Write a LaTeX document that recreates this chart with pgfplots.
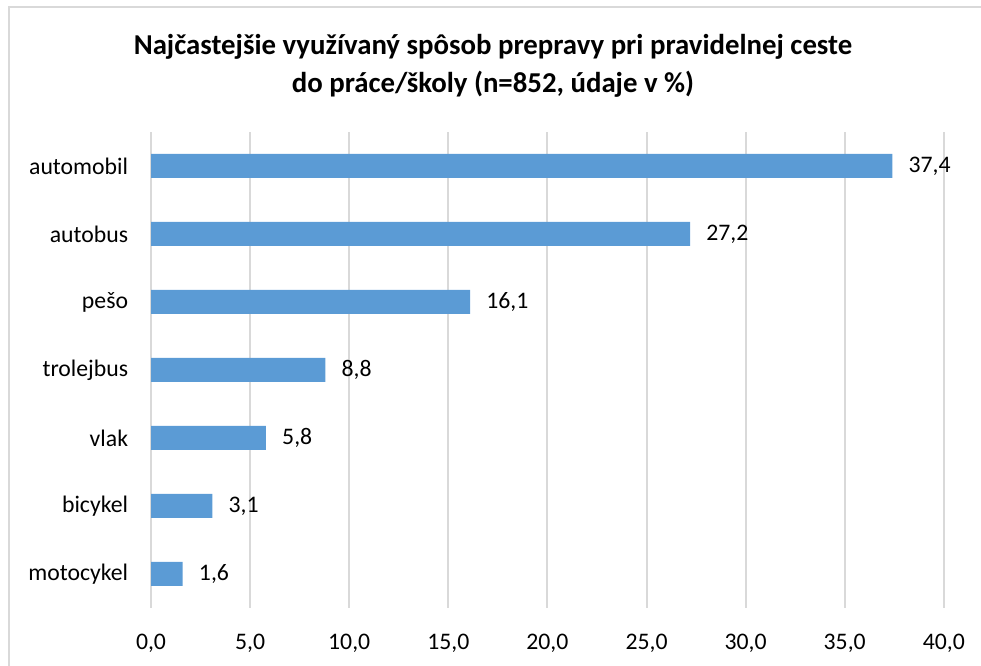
\documentclass[border=0pt]{standalone}
\usepackage{pgfplots}
\pgfplotsset{compat=1.18}
\usepackage{fontspec}
\setmainfont{Carlito}
\definecolor{barblue}{HTML}{5B9BD5}
\definecolor{gridgray}{HTML}{D9D9D9}
\pgfkeys{/pgf/number format/.cd, fixed, fixed zerofill, precision=1, use comma, assume math mode=true}
\begin{document}
\begin{tikzpicture}
\path[use as bounding box] (0,0) rectangle (735.75pt,499.5pt);
\draw[gridgray, line width=1pt] (6.75pt,0pt) -- (6.75pt,494.25pt) -- (735.75pt,494.25pt);
\node[align=center, font=\fontsize{21.6}{28.5}\selectfont\bfseries] at (369.75pt,450pt) {Najčastejšie využívaný spôsob prepravy pri pravidelnej ceste\\do práce/školy (n=852, údaje v \%)};
\begin{axis}[
 at={(113.25pt,43.5pt)}, anchor=south west,
 scale only axis, width=594.6pt, height=357pt,
 xbar, bar width=18pt,
 xmin=0, xmax=40, ymin=-0.5, ymax=6.5,
 xtick={0,5,...,40}, ytick={0,...,6},
 yticklabels={motocykel,bicykel,vlak,trolejbus,pešo,autobus,automobil},
 axis line style={draw=none}, major tick length=0pt,
 xmajorgrids, grid style={gridgray, line width=1.5pt},
 tick label style={font=\fontsize{17.8}{21}\selectfont},
 yticklabel style={inner sep=0pt, xshift=-17pt},
 xticklabel style={yshift=-16pt},
 nodes near coords,
 every node near coord/.append style={font=\fontsize{17.8}{21}\selectfont, inner sep=0pt, xshift=12pt, anchor=west},
 point meta=x,
]
\addplot[fill=barblue, draw=none] coordinates {(1.6,0) (3.1,1) (5.8,2) (8.8,3) (16.1,4) (27.2,5) (37.4,6)};
\end{axis}
\end{tikzpicture}
\end{document}
